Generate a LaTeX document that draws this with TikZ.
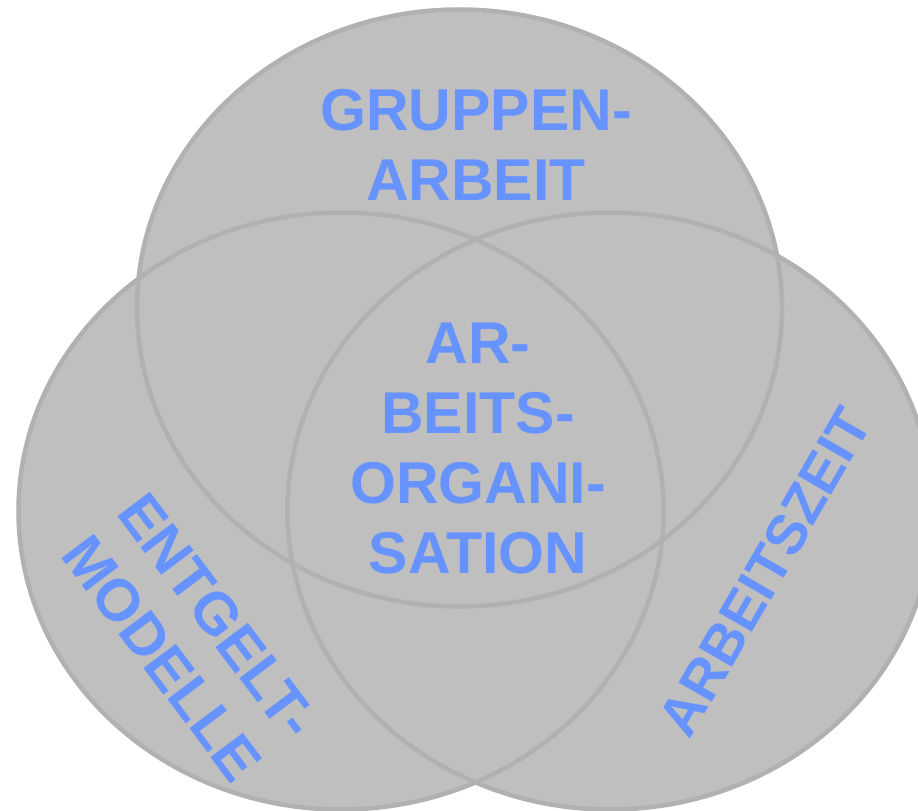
\documentclass[tikz,border=0pt]{standalone}
\usepackage{fontspec}
\setmainfont{Liberation Sans}
\definecolor{setfill}{HTML}{BFBFBF}
\definecolor{setline}{HTML}{B1B1B1}
\definecolor{labelblue}{HTML}{6693FF}
\tikzset{
  setshape/.style={fill=setfill},
  setedge/.style={draw=setline, line width=4.5bp},
  setlabel/.style={text=labelblue, font=\bfseries\fontsize{59bp}{70bp}\selectfont,
                   align=center, inner sep=0pt, anchor=center}
}
\begin{document}
\begin{tikzpicture}[x=1bp, y=-1bp]
  \useasboundingbox (0,0) rectangle (918,811);
  \clip (0,0) rectangle (918,811);
  % the three overlapping sets
  \coordinate (ctop)   at (459.5,308);
  \coordinate (cleft)  at (341,511);
  \coordinate (cright) at (610,511);
  \foreach \c in {ctop,cleft,cright}
    \fill[setshape] (\c) ellipse [x radius=322.5, y radius=298.5];
  \foreach \c in {ctop,cleft,cright}
    \draw[setedge] (\c) ellipse [x radius=322.5, y radius=298.5];
  % labels
  \node[setlabel] (gruppen) at (476,145) {GRUPPEN-\\ARBEIT};
  \node[setlabel] (orga) at (478,448.5) {AR-\\BEITS-\\ORGANI-\\SATION};
  \node[setlabel, rotate=-53] (entgelt) at (190,637) {ENTGELT-\\MODELLE};
  \node[setlabel, rotate=60, font=\bfseries\fontsize{56bp}{66bp}\selectfont]
    (zeit) at (765,572) {ARBEITSZEIT};
\end{tikzpicture}
\end{document}
